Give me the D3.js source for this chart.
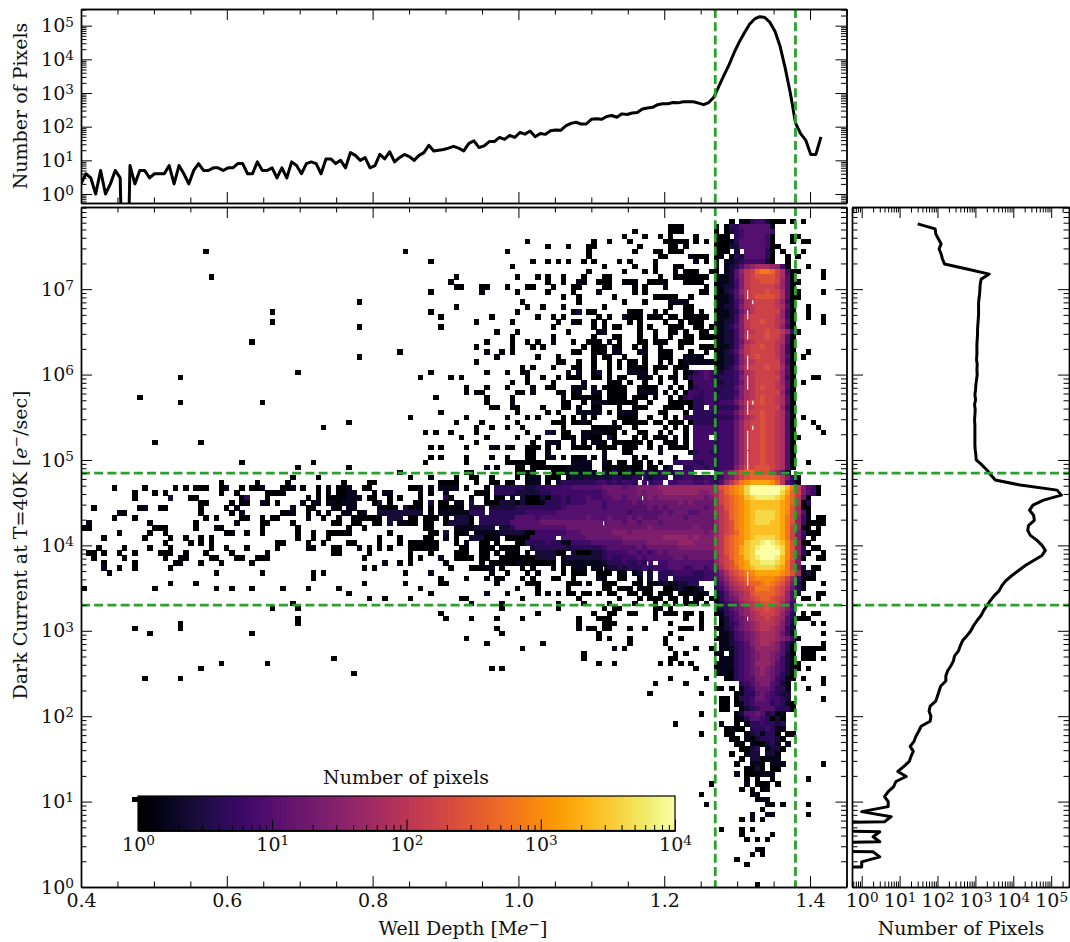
<!DOCTYPE html>
<html><head><meta charset="utf-8">
<script src="https://cdn.jsdelivr.net/npm/d3@7"></script>
<style>html,body{margin:0;padding:0;background:#fff}text{font-family:"DejaVu Serif",serif;fill:#111}</style>
</head><body><svg id="c" width="1070" height="942"></svg>
<script>
// Top marginal: well-depth histogram (two stretches at slightly different read steps)
const wellCountsLeft=[2,4,3,1,5,1,2,5,3,0,7,2,5,5,3,4,4,4,7,2,7,4,2,5,8,5,5,6,6,5,6,6,8,8,4,4,9,5,5,6,3,6,3,9,7,4,8,9,8,4,11,11,8,10,6,17,14,10,12,6,7,15,11,18,9,12,15,13,10,14,17,28,19,20,21,23];
const wellCountsRight=[26,23,19,32,38,24,27,36,36,48,42,55,48,67,60,74,50,63,59,76,80,78,105,125,135,120,120,165,172,165,200,215,190,240,230,255,265,335,360,375,450,480,480,520,510,550,550,550,500,450,520,745,1600,3400,7000,16000,33000,62000,110000,158000,185000,175000,125000,67000,24000,5400,980,130,62,40,15,15,50];
// Right marginal: dark-current histogram from row 132 down to row 3
const darkCounts=[30,87,90,106,125,110,125,135,153,596,2320,1425,1342,1316,1289,1238,1213,1213,1213,1188,1164,1140,1140,1117,1096,1096,1096,1072,1117,1096,1117,1072,1030,1010,970,1010,951,990,970,951,970,970,970,970,970,990,1030,1052,1486,2013,2570,3340,15300,142600,186000,63100,33100,26900,34400,35900,25400,24000,28200,42300,57300,70100,57300,34400,20700,13800,9230,6400,5010,4270,3150,2470,2013,1644,1397,1096,891,759,596,457,398,359,282,263,224,184,166,166,122,110,100,90,64,60,67,64,37,32,27,24,19,23,20,18,13,9,15,8,7,5,4,5,5,1,6,4,0,3,2,3,0,2,3,1,1,0];
const darkTopRow=132;
// 2-D histogram, row 132 (top) to row 0. Tokens are "column:levels"; level char = 0.2 dex above one pixel; "." is empty.
const heatRows=[
"127:0.10344200 137:0 139:0 141:0",
"115:0 116:00 124:0 126:0335555551",
"108:0 115:0 116:00 124:0 126:0234555554",
"106:0 110:0 113:0 115:0 120:0 124:0 125:00 128:3455554 135:0 139:00",
"87:0 100:0 103:0 107:0 114:00000 120:0 122:0 124:0 125:001 128:3555554 135:0 139:0 141:00",
"91:0 95:0 99:00 109:0 115:00 118:0 124:0 125:00 127:22 129:555554 135:0 136:0",
"24:0 63:0 83:0 99:0 108:0 112:00 115:000 124:0 125:00 128:2 130:5555 134:3 135:0 137:0 141:0",
"99:0 113:00 119:1000 124:00 127:0 128:3 129:2 130:5555 134:3 135:0 138:0 140:0",
"68:0 88:0 91:0 93:0 95:0 98:0 100:0 105:0 107:0 112:0 120:1 122:0 124:0 126:11 128:2 129:3 130:4444 134:2 135:0 138:0",
"84:0 102:0 108:0 112:0 116:00 124:0 126:1235789998840 142:0",
"99:0 106:0 110:0 112:0 116:0 118:00 120:0 123:1 124:0 125:.1258abdeedb940 140:0 145:0",
"25:0 73:0 85:0 89:0 91:0 94:0 98:0 102:00 113:0 116:0000000 124:011257abccccb950 145:0",
"72:0 91:0 94:0 97:1 98:0 101:0 103:1 102:00 106:000 111:0000 118:0000 124:011247abbcccb850 140:0",
"73:0 74:0 78:00 83:0 87:00 92:0 96:00 102:0 103:0 108:0 110:0 114:1 122:0 124:012247abbbbba850",
"68:0 78:0 85:0 91:0 96:0 101:1 108:0 110:0 121:0 122:0 124:002358abbbcbb950 139:00 145:0",
"94:0 97:0 104:0 112:00000 119:0 124:011257abccccb950 140:0",
"54:0 86:0 97:0 106:0 110:0 115:1111 124:0112469abbbba840",
"73:0 87:0 90:0 94:1 102:0 115:0 118:00 124:0122479abbbba950 142:0",
"37:0 68:0 85:0 96:0 97:2 99:00 107:000 112:0 114:0 118:00 121:0 124:0112368abbbbb840 142:0",
"70:0 80:0 89:0 92:0 94:0 101:0 103:0 106:1 107:000 111:000 115:00 118:00 119:0000 124:011247abbbbba840 142:0 145:0",
"37:0 77:0 84:0 93:0 96:1 97:0 100:0 102:1 102:0 107:0 109:0 114:0 117:0 119:000 124:012247abbcbba950 145:0",
"54:0 70:0 92:0 100:0 102:0 104:00 109:0 111:0 115:000 120:00 123:0 124:012357abbbbba840",
"81:0 85:0 95:0 101:11 109:0 112:0 115:00 118:0 121:00 124:0122479abbcbba840",
"84:0 92:0 100:0 104:00 109:0 112:0 115:0 118:00 121:000 124:012247abbbcbb950",
"33:0 79:0 84:0 87:0 89:0 92:1 96:0 99:000 103:1 105:0 109:00 112:000 117:0 118:00 124:0122469abbbba950",
"77:0 84:0 88:0 90:0 98:0 100:0 104:00 101:0 102:0 108:0 110:0 113:0 117:0 121:000 124:011247abbcbba840",
"62:0 79:1 82:0 84:0 96:0 97:0 100:000 102:1 104:11 109:11 113:000 119:0 122:0 124:012358abbbbba840 142:0",
"54:0 81:0 89:0 93:0 100:0 102:00 103:1 106:0 110:0 113:000 118:1111 124:012247abcbbba850 141:0",
"77:0 93:0 94:1 97:0 100:0 103:0 105:0 107:00 110:0 113:0 115:0 117:0 118:111111 124:0122479abbbbb840",
"86:0 88:0 92:0 96:0 97:0 100:0 103:0 105:0 107:0000 112:000 116:0 117:0 118:0 124:012358abbbcbb950",
"42:0 68:0 79:0 83:0 86:0 87:1 95:1 97:1 100:0 101:2 103:0 107:1111 112:0 116:0 118:0 119:1 120:345454 124:2233469abbbba850",
"19:0 66:0 72:0 74:0 87:0 90:0 93:0 95:000 100:00 103:1 105:00 109:111 113:0 115:00 118:1 119:34 121:4545 124:2333479abbbbb840 143:00",
"84:0 87:0 92:0 98:1 103:000 107:0 110:0 113:0 116:0 119:0 120:4444 124:2233469abbbba850 141:0",
"75:0 79:0 83:0 88:0 91:00 96:111 100:1 102:000 105:00 109:0000 115:0 117:0 119:1 120:3444 124:3333579abcbba950",
"75:0 77:0 78:0 85:00 88:1 93:00 96:0 97:1 100:11 103:0000 109:1111 114:0 116:0 118:0 119:4434 123:4 124:2333479abbbbb840",
"11:0 69:0 79:0 84:0 94:1 96:000000 103:0000 108:00 110:0 112:0 115:0 117:0 118:3433 122:44 124:3333579abcbba950",
"19:0 35:0 79:0 84:1 94:00 98:0 100:111 103:0000 107:00 111:0 115:000 118:00 120:33 122:44 124:3444 68abbcbba950",
"80:00 84:00 90:0 94:00 97:1 100:00 105:0 108:000 114:0 115:000 119:00 120:33 123:4 124:2333479abbbbb840",
"70:0 85:0 91:0 93:0 97:1 98:1111 103:0 105:1111 113:00 118:0 120:33333 124:3444 68abbcbba950",
"64:0 75:0 83:1 87:0 89:0 94:0 96:0 98:1 100:0 105:0 106:000 111:0 114:0 116:0 118:3333333 124:3333579abcbba950 141:0",
"52:0 73:0 78:0 85:0 92:000 96:00 98:1 99:0 104:1 106:000 109:00 112:00 115:000 119:0 120:33333 124:3444 68abbcbba950 143:0",
"47:0 77:0 80:0 83:0 86:0 94:0 100:00 102:00 104:0 105:1 108:0 114:0 116:0 118:0 120:44444 124:3444 68abbcbba950 144:0",
"67:0 69:0 72:0 77:0 87:0 91:21 94:00 98:1111 102:000 106:0 109:00 113:0 115:0 118:0 120:44444 124:3444 68abbcbba950 145:0",
"74:0 79:0 85:0 89:0 94:000 98:11 100:00 103:2 104:0 108:0 110:0 112:000 116:0 118:0 120:444 124:3444 68abbcbba950 140:0",
"14:0 23:0 77:0 88:0 91:111 96:1 98:0 100:11 102:0 104:000 107:000 111:0 114:000 118:0 120:4444 124:3444 68abbcbba950",
"68:0 70:0 75:0 80:11 83:00 87:00 89:0 91:0 93:0 96:000 99:0 101:0 102:000 106:00 108:0 111:0 113:0 115:0000 120:4444 124:3444 68abbcbba950",
"87:0 88:0 91:1 102:1 106:00 113:1 119:1 120:3443 124:3444 68abbcbba950",
"68:0 70:0 75:0 80:0 83:0 87:0 88:0 91:11 94:0 96:00 98:1 100:0 102:1 108:0 110:0 116:0 120:4444 124:3444 68abbcbba950",
"31:0 45:0 67:0 75:0 83:00 85:0 86:00000 96:1111 102:10.00.01.0.0 116:33443344 124:3444 68abbcbba950 142:0",
"42:0 52:0 79:1 81:0 85:00 88:000 91:0000 95:11111 102:00100100.00.12 118:334434 124:3444 79bbcccba950",
"62:0 75:00 85:000 88:0 92:0000 95:111111 102:20301200320 113:3 114:3 115:23444 124:346 8acddccca851",
"41:0 46:0 64:0 68:1 73:0 76:00 80:0 85:0 87:111 91:000 95:1222222 102:2233223332333.3344334 3 124:24679bcdddddca742",
"27:0 34:0 40:0 51:0 56:00 70:0000 77:0 80:00 83:00 87:111 91:0 93:2333 97:33334 102:4343443.4344.44555445455 124:358acefggggfda531",
"6:0 12:0 18:0 20:0 22:000 27:0 28:1 31:0 33:00 35:1 39:00 41:1 43:0 46:0 48:1 50:0 51:0 52:1 55:00 64:00 66:0 68:1 70:1111 75:0 79:0 81:333333223344444555555 102:6666566777788888888888 124:acdefgikkkkkkjheb7540",
"10:0 14:0 16:0 27:0 30:0 36:0000 46:0 48:0 50:00 52:11 57:0 59:11 66:0 68:0 71:1 77:000 81:333322222334444444444 102:5666666767778888888778 124:9bdefgikkkkkkigdb7540",
"10:0 17:2 21:00 31:0 32:3 36:0 44:0 46:0 48:000 51:0 52:111 56:00 60:0 62:0 66:0 71:3 72:0 76:1 79:0 81:00.1.2000203334 93:3434 97:44544 102:5566566667677777777767 124:9bcdefhijjjjihfda64 142:0",
"23:00 29:0 31:00 35:1 36:0 38:0 43:1 45:11 48:11 50:0 51:111 57:02 60:0 65:00 68:2 70:00 73:11 76:2 79:000 82:222 85:0 86:2 87:000 90:1 91:3 92:33434 97:44555 102:4555556566666667676666 124:9bcdefghhhhhhgfda63 141:0",
"2:0 11:0 12:1 15:0 16:0 23:0 28:0 30:1 41:1 44:00 49:1 50:0 52:11 58:0000 63:2 64:000 68:0 70:00000 76:222 80:22222 85:33333333 93:3455 97:55555 102:4555555556565666666656 124:9acdefghhhhhhgfc952 141:00",
"7:1 8:0 23:0 29:0 31:1 39:00 41:1 44:0 46:1 48:1 51:11 54:0 55:1 58:222222 64:222 68:1 70:111111 76:333 80:3333 84:3 85:3344 89:4 90:4445 94:55555 99:555 102:5555545555556566655666 124:9abdefghiiiihgfc953 142:0",
"6:0 10:0 24:0 26:0 31:00 35:0 37:00 44:1 47:0 50:0 53:000000 60:222 64:00 67:000 71:0 73:222 76:0 78:3333 82:333 85:5555 89:4 90:55555 95:55556 100:55 102:5655565655566666566666 124:8abdefghiiiihgec841 144:00",
"1:1 13:0 22:0 30:1 35:00 41:0 49:00 53:00 57:00 60:2 62:11 64:00 67:00 71:0 72:2 73:222 76:0 78:3333 82:33 84:5555 88:55 90:66666 95:66666 100:66 102:5666566566656666666666 124:8abcefghiiihhgec84. 142:00 144:00",
"0:00 14:000 22:0 26:1 27:0 35:0 42:0 52:0 55:0 67:00 73:1111 77:2222 82:22 84:3 85:55555 90:55555 95:66666 100:66 102:6666666667666666667666 124:8abcefghhhhhhgeb831 141:00 144:0",
"7:0 13:0 16:0 28:00 32:0 35:0 42:0 45:0 48:000 50:00 52:0 60:0 68:00 71:2 73:00 75:1 77:111 80:11 82:222 85:22 87:00 89:44444 94:4 95:55566 100:66 102:6677767777777777777767 124:8abcdfghhhhhhgeb741 142:000",
"4:0 12:0 17:0 20:0 23:0 25:0 42:0 45:0 48:0 58:0 62:0 67:00 71:1 73:0 76:222 79:00 81:1 83:00 85:0 86:00 88:44444 94:55555 99:666 102:6666777777778888878777 124:9acdefghiiiihgeb73 143:0",
"16:0 21:0 23:0 25:0 38:0 39:0 44:0 47:0 52:0 53:0 58:0 62:0 64:00000 69:0 73:0 75:1 78:00 81:0 85:00 87:3 88:333 91:4 92:33 94:1 95:1444 99:4 100:55 102:5555666667777778887777 124:9acdefhiijkjihfc84 141:00",
"3:0 8:0 13:0 17:0 25:0 28:0 32:0 38:0 44:00 49:00 54:1 56:0 58:0 60:0 64:000000 74:0 75:0 78:0 79:00 82:00 84:00 88:2 89:3 90:3 91:3333 95:2 96:3333 100:33 102:4555555656666667777777 124:9acdegh ijkkkjifc83 143:00",
"1:00 4:0 7:0 10:0 15:0 16:00 20:0 24:0 29:0 36:0 49:00 56:0 64:0 68:0 73:000 78:00 81:1 83:000 87:0 89:2222 93:00 96:2 97:000 100:22 102:3444455454565666666666 124:9acdegh ikkkkkifc83 142:0 145:0",
"2:0 8:0 16:0 19:00 25:00 30:00 34:0 35:00 55:0 64:0 66:0 70:1 73:0000 78:0 79:0 82:0000 86:00 88:0 89:2222 93:.1 95:222 98:2222 102:3433444545555566566666 124:8abdefhijkkkjhfc73 141:0 144:00",
"4:0 10:0 18:00 23:0 27:0 33:0 59:1 62:0 64:0 71:0 78:0 80:0 81:0000 85:1 86:000 89:0 90:000 94:111 97:11 99:111 102:2333433434.44555555555 124:8abcefgiijjjiheb7",
"4:1 7:0 10:0 17:0 55:0 57:0 72:0 76:00 78:0 79:11 82:0 86:0 88:0 92:1 94:0 96:111 100:11 102:0223233343444555445545 124:79bcdfghiiiihgeb62 143:00",
"5:0 26:0 35:0 45:0 47:0 63:0 68:1 80:0 83:0 87:0 89:0 94:0 96:000 101:0 102:00.01.12.2.33344443344 124:579bcdefgggggfec952 141:0 143:0",
"45:0 70:0 75:0 79:0 81:00 86:0 88:0 92:00 96:0 101:1 102:0..00..0 109:1.2.33 116:33333344 124:568abcdeffffedb841 142:00",
"17:0 22:0 55:0 63:0 70:00 81:0 87:000 95:00 97:0 99:1 102:000...0 109:0.0112 115:112233 124:4579abcddefedca730 141:0 145:0",
"0:0 14:0 26:0 29:0 33:0 39:0 44:0 50:0 66:0 85:0 89:0 95:0 102:00.000.101 111:0..0 115:0121 119:012 124:34689abceeedcb963 141:0",
"52:0 68:0 79:1 83:0 89:0 91:0 93:0 95:00 98:0 99:0 101:0 102:.00..00.00.0 114:0 115:0.000 120:1 121:01 124:23578 9acddddcb85 2 144:00",
"56:0 59:0 64:0 74:00 86:0 97:0 102:...0...0.000.00.0.00.0 124:13567 9abcddcba85 141:00 144:0",
"41:0 76:0 82:0 93:0 98:0 103:0 108:0 112:0 114:0 116:0 118:00 120:0 122:0 124:12456 89abcccb974",
"37:0 42:0 82:0 93:0 102:0 104:00 112:0 113:0 115:0 124:02356 78abbcba974",
"70:0 89:0 100:0 103:00 107:00 112:0 114:000 118:00 121:0 124:01345 789abbba863 141:0 143:00",
"42:0 71:0 76:0 81:0 86:0 97:0 101:0 102:00 112:0 118:0 121:0 124:.1245 679aab a98530 141:00",
"19:0 42:0 97:0 102:00 104:0 115:0 121:0 124:.0234 6789aaa9752 143:1 145:0",
"10:0 19:0 81:0 97:0 99:00 102:00 107:0 110:0 117:00 119:0 121:0 124:012356 78 9aa9874 2",
"13:0 33:0 82:0 101:0 115:0 124:.1124 5678 9998 64 1 145:0",
"75:0 101:0 103:0 107:0 114:0 117:0 124:011245 6789 9987 64 1",
"79:0 90:0 107:0 114:0 124:.11234 5789 9875 3 1 145:0",
"86:0 104:1 106:0 115:0 120:0 123:0 124:.11134 5688 8875 30 141:00000",
"98:0 116:0 118:0 124:11.1 345 678 8765 20 141:000",
"49:0 98:0 115:0 116:0 124:.111 345 678 8764 21 141:000 145:0",
"27:0 36:0 101:0 104:0 113:0 115:0 117:0 119:0 124:0111 345 688 8754 210",
"23:0 80:0 82:0 120:0 124:0111 345 678 7654 210 140:0 142:0",
"53:0 124:0110 345 678 7653 20",
"12:0 19:0 115:0 122:0 124:..00 345 577 7643 10 141:0 145:0",
"112:0 118:0 124:.....34 567 754 20 145:0",
"124:00 127:0 129:1 130:3 131:4 132:6 133:6 134:6 135:5 136:3 137:3 138:1 142:0",
"111:0 121:0 124:.... 013 356 54 322",
"124:.00. 033 466 544 32 145:0",
"124:.0 0 .0 134 555 343 10",
"124:.0 0 ..023 455 533 30",
"121:0 124:....12 556 52 30 1",
"124:....013 55 4 3 0 2 0",
"116:0 125:1 128:0 130:0 131:3 132:3 133:4 134:3 135:3 136:2 137:3",
"124:..01 0 0 .3 3 3 4 3 1 1",
"121:0 126:00 130:0 131:2 132:3 133:1 134:3 135:3 136:0 138:00",
"127:00 130:1 131:0 132:2 133:3 134:3 135:3 136:2 137:0",
"128:00 131:1 132:0 133:0 134:2 135:3 136:1 138:1",
"129:00 131:2 132:3 134:1 135:2 136:2 137:0",
"127:0 130:1 131:2 132:2 134:2 135:2 136:0",
"129:0 131:2 132:2 133:0 134:1 135:1 136:1",
"128:0 131:1 132:1 133:0 135:1 136:1 137:1 145:0",
"130:0 131:0 132:2 133:0 135:0 136:0",
"128:1 130:0 131:0 132:0 133:1 134:1 135:1",
"130:0 132:0 135:0 142:0",
"123:0 130:1 132:0 133:0 134:0 136:0",
"129:0 131:0 133:0 134:1",
"121:0 131:0 132:1",
"10:0 132:0 133:1 134:1",
"122:0 134:0 135:0 137:0 142:0",
"133:0",
"131:1 134:1 135:1 142:0",
"129:0 131:1 133:0",
"",
"125:0 129:0 131:0",
"129:0 135:0",
"130:0 132:0 134:0",
"",
"132:00",
"131:1 133:0",
"128:0",
"130:0",
"","","",
"132:0"
];
// Fine white slivers visible inside the bright column: [well depth, first row, last row]
const gapRuns=[[1.3136,117,118],[1.3136,113,114],[1.3136,109,110],[1.3136,103,105],[1.3136,99,101],[1.3136,94,96],[1.3136,87,90],[1.3136,83,86],[1.3136,60,62],[1.3136,53,53],[1.3207,116,116],[1.3207,96,96],[1.3207,91,91],[1.1695,81,81],[1.1765,80,80],[1.1695,77,77],[1.1160,72,72],[1.1765,64,64],[1.1160,63,63]];
const cutsX=[1.27,1.38], cutsY=[7e4,2e3];
const xMajor=[0.4,0.6,0.8,1.0,1.2,1.4];
const xMinor=[0.45,0.5,0.55,0.65,0.7,0.75,0.85,0.9,0.95,1.05,1.1,1.15,1.25,1.3,1.35,1.45];
const mainDecades=[0,1,2,3,4,5,6,7], marginDecades=[0,1,2,3,4,5], barDecades=[0,1,2,3,4];
const minorMult=[2,3,4,5,6,7,8,9];
const GREEN="#2ca02c";

const panel={l:81,r:846.5,mt:207,mb:887,tt:9,tb:203,rl:852,rr:1069};
const svg=d3.select("#c");
const FS=19;
const x=d3.scaleLinear().domain([0.4,1.45]).range([panel.l,panel.r]);
const y=d3.scaleLog().domain([1,Math.pow(10,7.962)]).range([panel.mb,panel.mt]);
const yTop=d3.scaleLog().domain([Math.pow(10,-0.267),Math.pow(10,5.495)]).range([panel.tb,panel.tt]);
const xRight=d3.scaleLog().domain([Math.pow(10,-0.256),Math.pow(10,5.47)]).range([panel.rl,panel.rr]);
const color=d3.scaleSequentialLog(d3.interpolateInferno).domain([1,1e4]).clamp(true);
const LEVELS="0123456789abcdefghijk";
const colStep=0.007, rowsPerDecade=17;
const xEdge=c=>0.4+c*colStep, yEdge=r=>Math.pow(10,r/rowsPerDecade);

const cells=[];
heatRows.forEach((s,i)=>{const r=132-i;
  s.trim().split(/\s+(?=\d+:)/).filter(Boolean).forEach(tok=>{
    const [c0,lv]=tok.split(":");const chars=lv.replace(/\s/g,"");
    [...chars].forEach((ch,k)=>{const L=LEVELS.indexOf(ch);if(L>=0)cells.push({c:+c0+k,r,n:Math.pow(10,L*0.2)});});
  });
});
const uniq=new Map();cells.forEach(d=>uniq.set(d.c+"_"+d.r,d));

[["clipM",panel.l,panel.mt,panel.r-panel.l,panel.mb-panel.mt],["clipT",panel.l,panel.tt,panel.r-panel.l,panel.tb-panel.tt],["clipR",panel.rl,panel.mt,panel.rr-panel.rl,panel.mb-panel.mt]].forEach(a=>{
  svg.append("clipPath").attr("id",a[0]).append("rect").attr("x",a[1]).attr("y",a[2]).attr("width",a[3]).attr("height",a[4]);
});

svg.append("g").attr("clip-path","url(#clipM)").attr("shape-rendering","crispEdges")
 .selectAll("rect").data([...uniq.values()]).join("rect")
 .attr("x",d=>x(xEdge(d.c))).attr("y",d=>y(yEdge(d.r+1)))
 .attr("width",d=>x(xEdge(d.c+1))-x(xEdge(d.c))+0.4)
 .attr("height",d=>y(yEdge(d.r))-y(yEdge(d.r+1))+0.4)
 .attr("fill",d=>color(d.n));
svg.append("g").selectAll("rect").data(gapRuns).join("rect")
 .attr("x",d=>x(d[0])).attr("width",1.2).attr("y",d=>y(yEdge(d[2]+0.8))).attr("height",d=>y(yEdge(d[1]))-y(yEdge(d[2]+0.8))).attr("fill","#fff");

const FLOOR=1e-6;
const topPts=[...wellCountsLeft.map((v,i)=>[0.4+i*0.00672,v]),...wellCountsRight.map((v,i)=>[xEdge(73+i),v])];
svg.append("path").datum(topPts).attr("clip-path","url(#clipT)").attr("fill","none").attr("stroke","#000").attr("stroke-width",3).attr("stroke-linejoin","round")
 .attr("d",d3.line().x(d=>x(d[0])).y(d=>yTop(Math.max(d[1],FLOOR))));
svg.append("path").datum(darkCounts).attr("clip-path","url(#clipR)").attr("fill","none").attr("stroke","#000").attr("stroke-width",3).attr("stroke-linejoin","round")
 .attr("d",d3.line().x(d=>xRight(Math.max(d,FLOOR))).y((d,i)=>y(yEdge(darkTopRow-i))));

const bar={x0:138,x1:675,y0:796,y1:830.5};
const xBar=d3.scaleLog().domain([1,1e4]).range([bar.x0,bar.x1]);
const barSteps=d3.range(0,256).map(i=>Math.pow(10,i/256*4));
svg.append("g").attr("shape-rendering","crispEdges").selectAll("rect").data(barSteps).join("rect")
 .attr("x",d=>xBar(d)).attr("y",bar.y0).attr("width",(bar.x1-bar.x0)/256+0.6).attr("height",bar.y1-bar.y0).attr("fill",d=>color(d));

const dash="9,4.2";
cutsX.forEach(v=>{
 [[panel.tt,panel.tb],[panel.mt,panel.mb]].forEach(e=>svg.append("line").attr("x1",x(v)).attr("x2",x(v)).attr("y1",e[0]).attr("y2",e[1]).attr("stroke",GREEN).attr("stroke-width",2.8).attr("stroke-dasharray",dash));
});
cutsY.forEach(v=>{
 [[panel.l,panel.r],[panel.rl,panel.rr]].forEach(e=>svg.append("line").attr("x1",e[0]).attr("x2",e[1]).attr("y1",y(v)).attr("y2",y(v)).attr("stroke",GREEN).attr("stroke-width",2.8).attr("stroke-dasharray",dash));
});

function decades(scale){const [a,b]=scale.domain();const out=[];d3.range(-1,9).forEach(k=>minorMult.forEach(m=>{const v=m*Math.pow(10,k);if(v>=Math.min(a,b)&&v<=Math.max(a,b))out.push(v);}));return out;}
function powerLabels(sel){sel.selectAll("text").each(function(d){
  const t=d3.select(this);const e=Math.round(Math.log10(d));t.text("");
  t.append("tspan").text("10");t.append("tspan").attr("dy","-0.42em").attr("font-size","0.72em").text(e);
 });}
function drawAxis(maker,scale,tf,major,minor,fmt,opts={}){
 const g=svg.append("g").attr("transform",tf).attr("class","ax");
 const a=maker(scale).tickValues(major).tickSizeOuter(0).tickSizeInner(-(opts.mlen||11)).tickPadding(opts.pad||7).tickFormat(fmt||"");
 const gg=g.append("g").call(a);gg.selectAll("text").attr("font-size",FS).attr("font-family","DejaVu Serif").attr("fill","#111");
 if(opts.pow)powerLabels(gg);
 const b=maker(scale).tickValues(minor).tickSizeOuter(0).tickSizeInner(-(opts.nlen||5.5)).tickFormat("");
 g.append("g").call(b);
 g.selectAll(".domain").attr("stroke","#000").attr("stroke-width",1.4);
 g.selectAll(".tick line").attr("stroke","#000").attr("stroke-width",1);
 return g;
}
const dec=a=>a.map(k=>Math.pow(10,k));
const f1=d3.format(".1f"), blank=()=>"" , powf=d=>"10";
const yMin=decades(y), yTopMin=decades(yTop), xRMin=decades(xRight);

drawAxis(d3.axisBottom,x,`translate(0,${panel.mb})`,xMajor,xMinor,f1);
drawAxis(d3.axisTop,x,`translate(0,${panel.mt})`,xMajor,xMinor,blank);
drawAxis(d3.axisLeft,y,`translate(${panel.l},0)`,dec(mainDecades),yMin,powf,{pow:true});
drawAxis(d3.axisRight,y,`translate(${panel.r},0)`,dec(mainDecades),yMin,blank);
drawAxis(d3.axisBottom,x,`translate(0,${panel.tb})`,xMajor,xMinor,blank);
drawAxis(d3.axisTop,x,`translate(0,${panel.tt})`,xMajor,xMinor,blank);
drawAxis(d3.axisLeft,yTop,`translate(${panel.l},0)`,dec(marginDecades),yTopMin,powf,{pow:true});
drawAxis(d3.axisRight,yTop,`translate(${panel.r},0)`,dec(marginDecades),yTopMin,blank);
drawAxis(d3.axisBottom,xRight,`translate(0,${panel.mb})`,dec(marginDecades),xRMin,powf,{pow:true});
drawAxis(d3.axisTop,xRight,`translate(0,${panel.mt})`,dec(marginDecades),xRMin,blank);
drawAxis(d3.axisLeft,y,`translate(${panel.rl},0)`,dec(mainDecades),yMin,blank);
drawAxis(d3.axisRight,y,`translate(${panel.rr},0)`,dec(mainDecades),yMin,blank);
svg.append("rect").attr("x",bar.x0).attr("y",bar.y0).attr("width",bar.x1-bar.x0).attr("height",bar.y1-bar.y0).attr("fill","none").attr("stroke","#000").attr("stroke-width",1.2);
const barMin=[];d3.range(0,4).forEach(k=>minorMult.forEach(m=>barMin.push(m*Math.pow(10,k))));
drawAxis(d3.axisBottom,xBar,`translate(0,${bar.y1})`,dec(barDecades),barMin,powf,{pow:true});

function title(xp,yp,rot,build){const t=svg.append("text").attr("transform",`translate(${xp},${yp}) rotate(${rot})`).attr("text-anchor","middle").attr("font-size",FS);build(t);}
title(463,935,0,t=>{t.append("tspan").text("Well Depth [M");t.append("tspan").attr("font-style","italic").text("e");t.append("tspan").attr("dy","-0.42em").attr("font-size","0.72em").text("−");t.append("tspan").attr("dy","0.3em").text("]");});
title(27,545,-90,t=>{t.append("tspan").text("Dark Current at T=40K [");t.append("tspan").attr("font-style","italic").text("e");t.append("tspan").attr("dy","-0.42em").attr("font-size","0.72em").text("−");t.append("tspan").attr("dy","0.3em").text("/sec]");});
title(27,106,-90,t=>t.text("Number of Pixels"));
title(961,935,0,t=>t.text("Number of Pixels"));
title(406,784,0,t=>t.text("Number of pixels"));
</script></body></html>
